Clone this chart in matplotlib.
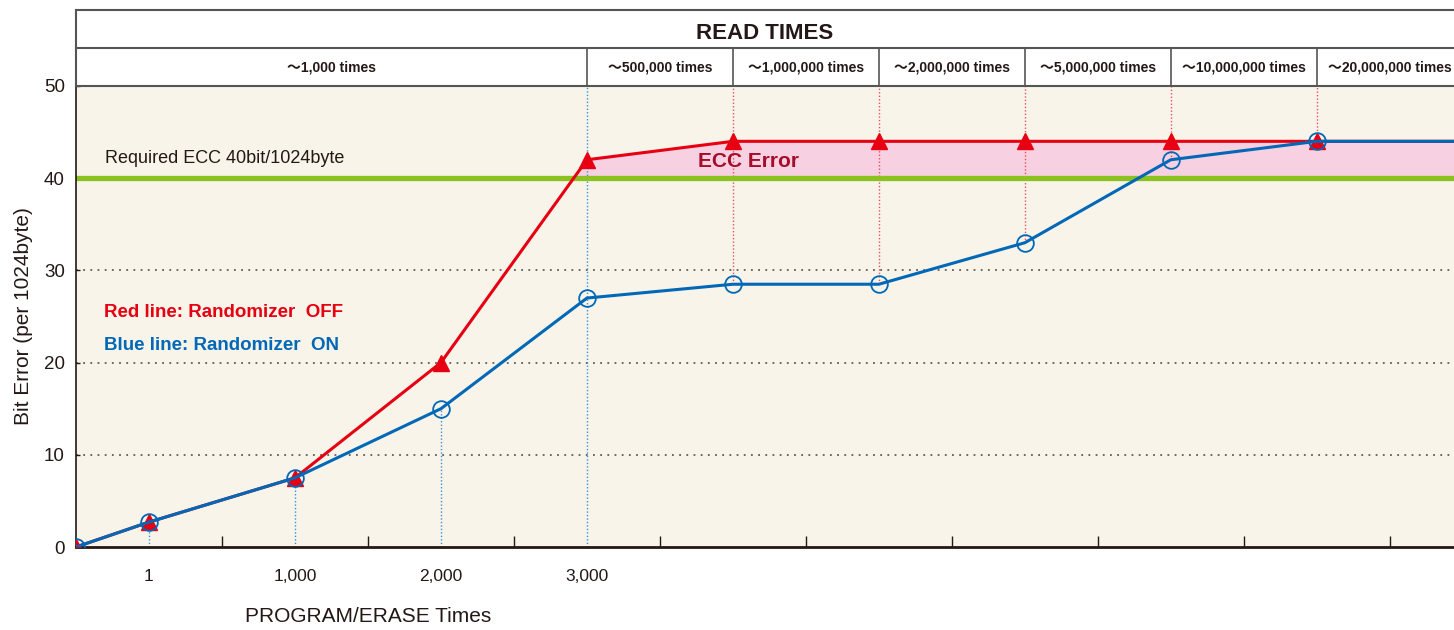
import numpy as np
import matplotlib.pyplot as plt

# P/E cycle categories and read-count bands
pe_labels = ["1", "1,000", "2,000", "3,000"]
read_labels = ["～1,000 times", "～500,000 times", "～1,000,000 times", "～2,000,000 times",
               "～5,000,000 times", "～10,000,000 times", "～20,000,000 times"]

# bit errors per 1024 byte at origin + 9 measurement points
red_off = [0, 2.7, 7.5, 20, 42, 44, 44, 44, 44, 44]
blue_on = [0, 2.7, 7.5, 15, 27, 28.5, 28.5, 33, 42, 44]
ecc_limit = 40

RED = "#e60012"
BLUE = "#0068b7"
GREEN = "#8cc21f"
PINK = "#f7d0e1"
CREAM = "#f8f4e9"
INK = "#231815"

SANS = ["Liberation Sans", "Noto Sans CJK JP", "DejaVu Sans"]

x = np.array([0] + [i + 0.5 for i in range(len(red_off) - 1)])
xmax = 9.44

fig = plt.figure(figsize=(14.54, 6.3), dpi=100)
ax = fig.add_axes([76 / 1454, 83 / 630, 1378 / 1454, 461 / 630])
hd = fig.add_axes([76 / 1454, 544 / 630, 1378 / 1454, 76 / 630])

# ---- main plot
ax.set_facecolor(CREAM)
ax.set_xlim(0, xmax)
ax.set_ylim(0, 50)

for yv in [10, 20, 30]:
    ax.axhline(yv, color="#444444", lw=1.1, ls=(0, (1.2, 3.5)), zorder=1)

# extended lines to the right edge
xr = np.append(x, xmax)
red_r = np.append(red_off, red_off[-1])
blue_r = np.append(blue_on, blue_on[-1])

ax.fill_between(xr, ecc_limit, red_r, where=red_r > ecc_limit, interpolate=True,
                color=PINK, lw=0, zorder=1.5)
ax.axhline(ecc_limit, color=GREEN, lw=3.8, zorder=2)

# guide lines
for i in range(1, 4):
    ax.plot([x[i], x[i]], [0, blue_on[i]], color="#3a8fd8", lw=1.0, ls=(0, (1, 1.5)), zorder=1.8)
ax.plot([x[4], x[4]], [0, 50], color="#3a8fd8", lw=1.0, ls=(0, (1, 1.5)), zorder=1.8)
for i in range(5, len(x)):
    ax.plot([x[i], x[i]], [blue_on[i], 50], color="#e8505e", lw=1.0, ls=(0, (1, 1.5)), zorder=1.8)

ax.plot(xr, red_r, color=RED, lw=2.2, zorder=3)
ax.plot(x, red_off, ls="none", marker="^", ms=11, color=RED, zorder=3.2)
ax.plot(xr, blue_r, color=BLUE, lw=2.2, zorder=4)
ax.plot(x, blue_on, ls="none", marker="o", ms=12, mfc="none", mec=BLUE, mew=1.3, zorder=4.2)

for s in ["top", "right"]:
    ax.spines[s].set_visible(False)
ax.spines["left"].set_color(INK)
ax.spines["left"].set_linewidth(1.2)
ax.spines["bottom"].set_color(INK)
ax.spines["bottom"].set_linewidth(2)

ax.set_yticks([0, 10, 20, 30, 40, 50])
ax.tick_params(axis="y", direction="in", length=3, width=1, color=INK, pad=8,
               labelsize=13.5, labelcolor=INK)
for t in ax.get_yticklabels():
    t.set_family(SANS)

ax.set_xticks(x[1:5])
ax.set_xticklabels(pe_labels, fontsize=12.5, color=INK, family=SANS)
ax.set_xticks(np.arange(1, 10), minor=True)
ax.tick_params(axis="x", which="major", length=0, pad=16)
ax.tick_params(axis="x", which="minor", direction="in", length=8, width=1, color=INK)

ax.set_ylabel("Bit Error (per 1024byte)", fontsize=15, color=INK, family=SANS, labelpad=8)
ax.text(2.0, -7.5, "PROGRAM/ERASE Times", fontsize=15, color=INK, family=SANS,
        ha="center", va="center", clip_on=False)

ax.text(0.2, 42.1, "Required ECC 40bit/1024byte", fontsize=13, color=INK, family=SANS,
        ha="left", va="center")
ax.text(4.61, 41.8, "ECC Error", fontsize=15, color="#a50d2a", fontweight="bold",
        family=SANS, ha="center", va="center")
ax.text(0.19, 25.4, "Red line: Randomizer  OFF", fontsize=13.5, color=RED,
        fontweight="bold", family=SANS, ha="left", va="center")
ax.text(0.19, 21.9, "Blue line: Randomizer  ON", fontsize=13.5, color=BLUE,
        fontweight="bold", family=SANS, ha="left", va="center")

# ---- header table
hd.set_xlim(0, xmax)
hd.set_ylim(0, 2)
hd.axis("off")
hd.plot([0, xmax], [2, 2], color="#555555", lw=1.5, clip_on=False)
hd.plot([0, xmax], [1, 1], color="#555555", lw=1.5)
hd.plot([0, xmax], [0, 0], color="#555555", lw=1.5, clip_on=False)
hd.plot([0, 0], [0, 2], color="#555555", lw=1.5, clip_on=False)
bounds = [0] + list(x[4:]) + [x[-1] + 1]
for b in bounds[1:-1]:
    hd.plot([b, b], [0, 1], color="#555555", lw=1.2)
hd.text(xmax / 2, 1.38, "READ TIMES", fontsize=16, fontweight="bold", color=INK,
        family=SANS, ha="center", va="center")
for lab, a, b in zip(read_labels, bounds[:-1], bounds[1:]):
    hd.text((a + b) / 2, 0.5, lab, fontsize=10, fontweight="bold", color=INK,
            family=SANS, ha="center", va="center", clip_on=True)

fig.savefig("out.png", dpi=100)
